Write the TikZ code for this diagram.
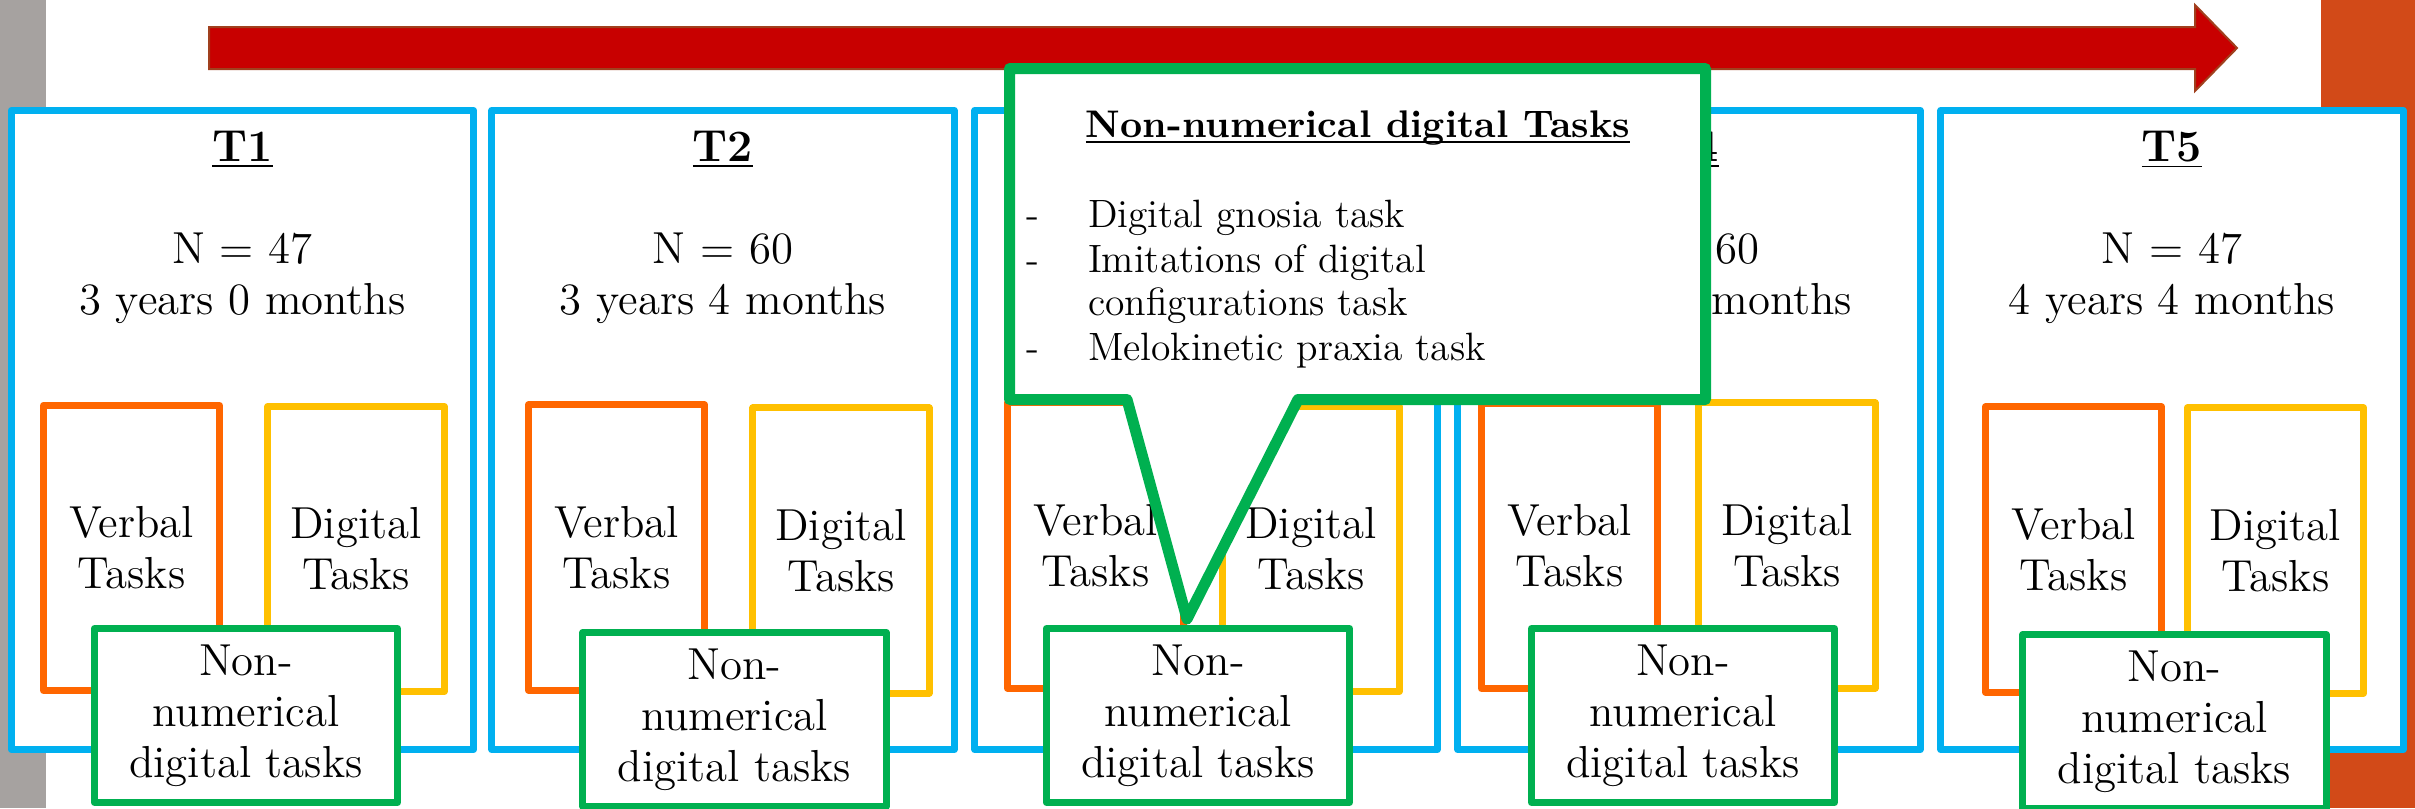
\documentclass[tikz,border=0pt]{standalone}
\definecolor{cblue}{HTML}{00B0F0}
\definecolor{corange}{HTML}{FF6600}
\definecolor{cyellow}{HTML}{FFC000}
\definecolor{cgreen}{HTML}{00B050}
\definecolor{cred}{HTML}{C80000}
\definecolor{credline}{HTML}{A0401E}
\definecolor{cgray}{HTML}{A6A2A0}
\definecolor{cstrip}{HTML}{D24A18}
\newcommand{\mainfs}{\fontsize{12.75pt}{14.51pt}\selectfont}
\newcommand{\callfs}{\fontsize{11.24pt}{12.66pt}\selectfont}
\newcommand{\titlefs}{\fontsize{10.95pt}{12.5pt}\selectfont\bfseries}
\begin{document}
\begin{tikzpicture}[x=0.01cm,y=-0.01cm,
  every node/.style={inner sep=0pt,outer sep=0pt},
  box/.style={draw,fill=white,line width=0.07cm,line join=round,align=center,font=\mainfs},
  period/.style={box,draw=cblue,minimum width=4.62cm,minimum height=6.39cm},
  verbal/.style={box,draw=corange,minimum width=1.76cm,minimum height=2.85cm},
  digital/.style={box,draw=cyellow,minimum width=1.76cm,minimum height=2.85cm},
  nonnum/.style={box,draw=cgreen,minimum width=3.03cm,minimum height=1.74cm},
  txtline/.style={anchor=base,font=\mainfs},
  callitem/.style={anchor=base west,font=\callfs},
  calldash/.style={anchor=base,font=\callfs},
  callout/.style={draw=cgreen,fill=white,line width=0.11cm,line join=round},
  timearrow/.style={draw=credline,fill=cred,line width=0.02cm,line join=miter}
]
\useasboundingbox (0,0) rectangle (2415,808);
% side strips
\fill[cgray] (0,0) rectangle (46,808);
\fill[cstrip] (2321,0) rectangle (2415,808);
% time arrow
\draw[timearrow] (209,27) -- (2195,27) -- (2195,5) -- (2237,48) -- (2195,91) -- (2195,69) -- (209,69) -- cycle;

% period boxes
\node[period] (p1) at (242.5,430) {};
\node[period] (p2) at (723,430) {};
\node[period] (p3) at (1206,430) {};
\node[period] (p4) at (1689,430) {};
\node[period] (p5) at (2172,430) {};

% headings and info
\node[txtline] (h1) at (242.5,161) {\underline{\textbf{T1}}};
\node[txtline] (n1) at (242.5,263) {N = 47};
\node[txtline] (a1) at (242.5,314) {3 years 0 months};
\node[txtline] (h2) at (723,161) {\underline{\textbf{T2}}};
\node[txtline] (n2) at (723,263) {N = 60};
\node[txtline] (a2) at (723,314) {3 years 4 months};
\node[txtline] (h4) at (1689,161) {\underline{\textbf{T4}}};
\node[txtline] (n4) at (1689,263) {N = 60};
\node[txtline] (a4) at (1689,314) {4 years 0 months};
\node[txtline] (h5) at (2172,161) {\underline{\textbf{T5}}};
\node[txtline] (n5) at (2172,263) {N = 47};
\node[txtline] (a5) at (2172,314) {4 years 4 months};

% verbal / digital boxes
\node[verbal] (v1) at (131.5,548) {Verbal\\Tasks};
\node[digital] (d1) at (356,549) {Digital\\Tasks};
\node[verbal] (v2) at (616.5,547.5) {Verbal\\Tasks};
\node[digital] (d2) at (841,550.5) {Digital\\Tasks};
\node[verbal] (v3) at (1095.5,545.5) {Verbal\\Tasks};
\node[digital] (d3) at (1311,549) {Digital\\Tasks};
\node[verbal] (v4) at (1569.5,546) {Verbal\\Tasks};
\node[digital] (d4) at (1787,545.5) {Digital\\Tasks};
\node[verbal] (v5) at (2073.5,549.5) {Verbal\\Tasks};
\node[digital] (d5) at (2275.5,550.5) {Digital\\Tasks};

% non-numerical boxes
\node[nonnum] (g1) at (246,715.5) {Non-\\numerical\\digital tasks};
\node[nonnum] (g2) at (734.5,719.5) {Non-\\numerical\\digital tasks};
\node[nonnum] (g3) at (1198,715.5) {Non-\\numerical\\digital tasks};
\node[nonnum] (g4) at (1683,715.5) {Non-\\numerical\\digital tasks};
\node[nonnum] (g5) at (2174.5,721.5) {Non-\\numerical\\digital tasks};

% callout
\coordinate (tip) at (1187,619);
\draw[callout] (1009.5,68.5) -- (1705.5,68.5) -- (1705.5,399.5) -- (1298,399.5) -- (tip) -- (1127,399.5) -- (1009.5,399.5) -- cycle;
\node[anchor=base,font=\titlefs] (ctitle) at (1358,137) {\underline{\smash{Non-numerical digital Tasks}}};
\node[calldash] (k1) at (1033,227) {-};
\node[callitem] (c1) at (1088,227) {Digital gnosia task};
\node[calldash] (k2) at (1033,272) {-};
\node[callitem] (c2) at (1088,272) {Imitations of digital};
\node[callitem] (c2b) at (1088,315) {configurations task};
\node[calldash] (k3) at (1033,360) {-};
\node[callitem] (c3) at (1088,360) {Melokinetic praxia task};
\end{tikzpicture}
\end{document}
